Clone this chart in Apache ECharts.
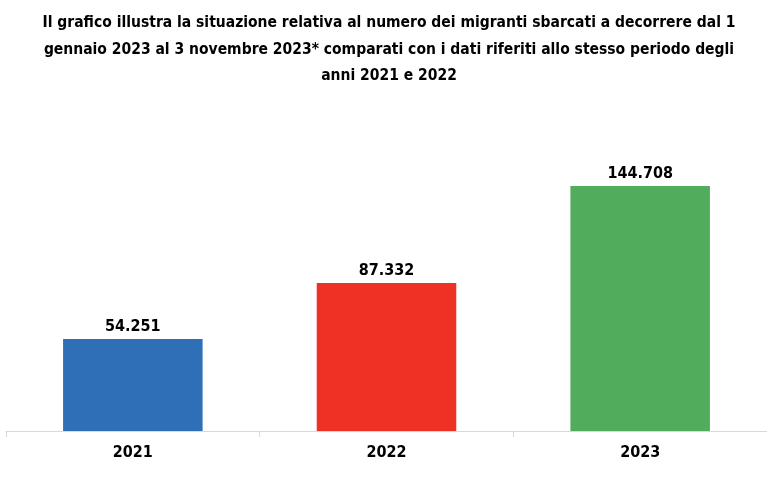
<!DOCTYPE html>
<html><head><meta charset="utf-8">
<script src="https://cdn.jsdelivr.net/npm/echarts@6/dist/echarts.min.js"></script>
<style>html,body{margin:0;padding:0;background:#fff}#c{width:767px;height:496px}</style>
</head><body><div id="c"></div>
<script>
const categories = ['2021', '2022', '2023'];
const values = [54251, 87332, 144708];
const colors = ['#2e6fb8', '#ee3124', '#51ac5b'];
const titleText = 'Il grafico illustra la situazione relativa al numero dei migranti sbarcati a decorrere dal 1\ngennaio 2023 al 3 novembre 2023* comparati con i dati riferiti allo stesso periodo degli\nanni 2021 e 2022';
const FONT = "'Liberation Sans Narrow', 'DejaVu Sans Condensed', 'Liberation Sans', sans-serif";

const chart = echarts.init(document.getElementById('c'));
chart.setOption({
  animation: false,
  title: {
    text: titleText,
    left: 384,
    top: 5,
    textAlign: 'center',
    textStyle: { fontFamily: FONT, fontWeight: 'bold', fontSize: 15.5, lineHeight: 26.5, color: '#000' }
  },
  grid: { left: 6, right: -4, top: 160, bottom: 65 },
  xAxis: {
    type: 'category',
    data: categories,
    axisLine: { lineStyle: { color: '#d9d9d9', width: 1 } },
    axisTick: { show: true, length: 6, lineStyle: { color: '#d9d9d9' } },
    axisLabel: { fontFamily: FONT, fontWeight: 'bold', fontSize: 16, color: '#000', margin: 14 }
  },
  yAxis: { type: 'value', min: 0, max: 160000, show: false, splitLine: { show: false } },
  series: [{
    type: 'bar',
    barWidth: '55%',
    data: values.map((v, i) => ({ value: v, itemStyle: { color: colors[i] } })),
    label: {
      show: true, position: 'top', distance: 4,
      fontFamily: FONT, fontWeight: 'bold', fontSize: 16, color: '#000',
      formatter: p => p.value.toLocaleString('it-IT')
    }
  }]
});
</script></body></html>
